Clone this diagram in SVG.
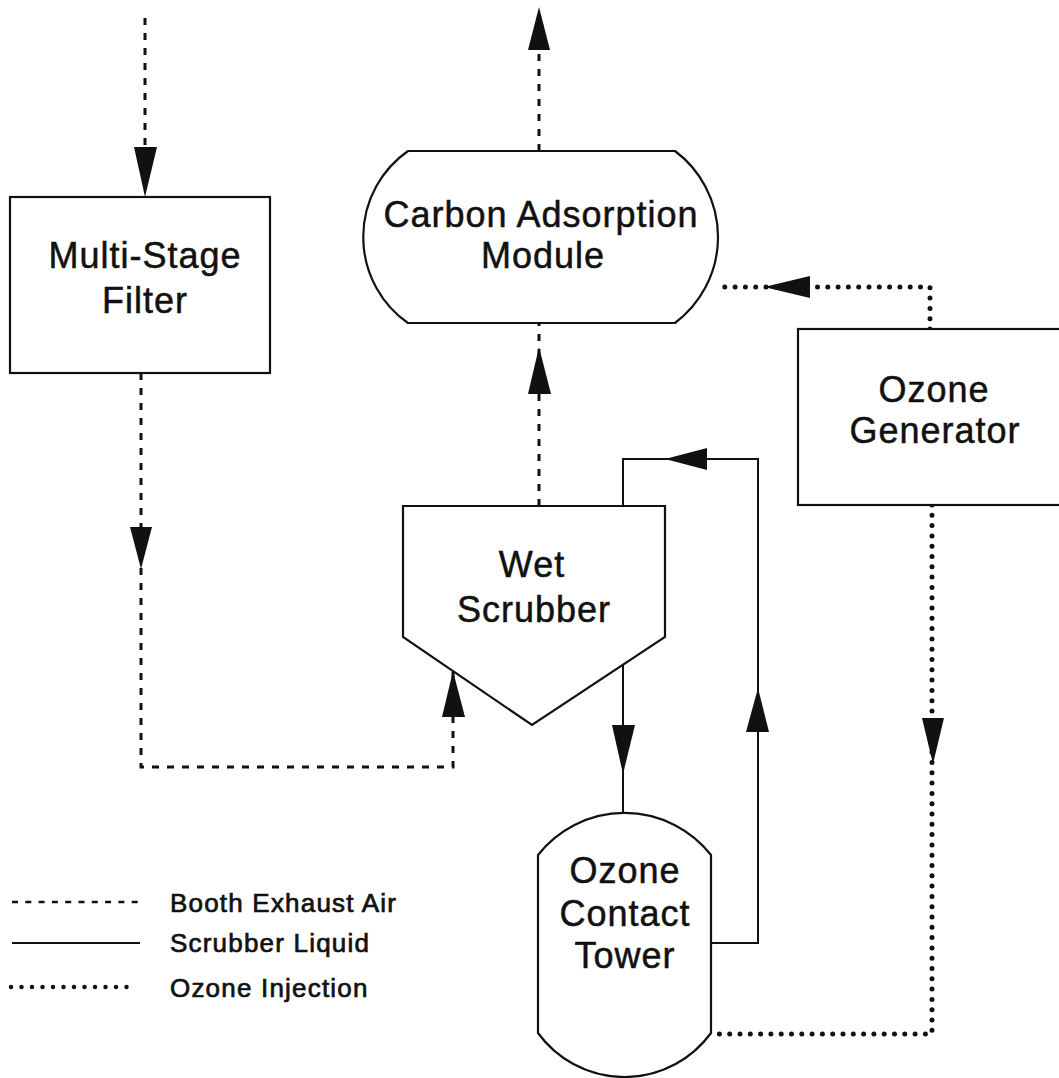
<svg xmlns="http://www.w3.org/2000/svg" width="1059" height="1078" viewBox="0 0 1059 1078">
<style>
.node{fill:#fff;stroke:#111;stroke-width:2.2}
.lbl{font-family:"Liberation Sans",Arial,sans-serif;font-size:36px;letter-spacing:1px;fill:#111;stroke:#111;stroke-width:0.5;text-anchor:middle}
.leg{font-family:"Liberation Sans",Arial,sans-serif;font-size:26px;letter-spacing:1.2px;fill:#111;stroke:#111;stroke-width:0.7}
.air{fill:none;stroke:#111;stroke-width:3;stroke-dasharray:7 8}
.liq{fill:none;stroke:#111;stroke-width:2}
.oz{fill:none;stroke:#111;stroke-width:5;stroke-dasharray:0 10.3;stroke-linecap:round}
.ah{fill:#111;stroke:none}
</style>
<rect width="1059" height="1078" fill="#fff"/>
<g id="connectors">
  <line class="air" x1="145" y1="18" x2="145" y2="150"/>
  <polygon class="ah" points="134,147 157,147 145,197"/>
  <polyline class="air" points="141,373 141,767 453,767 453,672"/>
  <polygon class="ah" points="130,527 152,527 141,569"/>
  <polygon class="ah" points="442,717 465,717 453,671"/>
  <line class="air" x1="539" y1="506" x2="539" y2="323"/>
  <polygon class="ah" points="528,394 551,394 539,347"/>
  <line class="air" x1="539" y1="151" x2="539" y2="48"/>
  <polygon class="ah" points="528,50 550,50 539,7"/>
  <line class="liq" x1="623" y1="665" x2="623" y2="814"/>
  <polygon class="ah" points="612,725 635,725 623,774"/>
  <polyline class="liq" points="711,943 758,943 758,459 623,459 623,506"/>
  <polygon class="ah" points="746,732 769,732 758,688"/>
  <polygon class="ah" points="707,448 707,470 665,459"/>
  <polyline class="oz" points="930,329 930,287 716,287"/>
  <polygon class="ah" points="810,276 810,298 764,287"/>
  <polyline class="oz" points="932,505 932,1034 712,1034"/>
  <polygon class="ah" points="922,718 944,718 933,764"/>
</g>
<g id="filter">
  <rect class="node" x="10" y="197" width="260" height="176"/>
  <text class="lbl" x="145" y="268">Multi-Stage</text>
  <text class="lbl" x="145" y="313">Filter</text>
</g>
<g id="carbon">
  <path class="node" d="M408,151 L675,151 A107.5,107.5 0 0 1 675,323 L408,323 A105,105 0 0 1 408,151 Z"/>
  <text class="lbl" x="541" y="227">Carbon Adsorption</text>
  <text class="lbl" x="543" y="268">Module</text>
</g>
<g id="scrubber">
  <polygon class="node" points="403,506 665,506 665,637 532,725 403,637"/>
  <text class="lbl" x="532" y="577">Wet</text>
  <text class="lbl" x="534" y="622">Scrubber</text>
</g>
<g id="generator">
  <rect class="node" x="798" y="329" width="280" height="176"/>
  <text class="lbl" x="934" y="402">Ozone</text>
  <text class="lbl" x="935" y="443">Generator</text>
</g>
<g id="tower">
  <path class="node" d="M538,855 A110,110 0 0 1 711,855 L711,1033 A107,107 0 0 1 538,1033 Z"/>
  <text class="lbl" x="625" y="883">Ozone</text>
  <text class="lbl" x="625" y="926">Contact</text>
  <text class="lbl" x="625" y="968">Tower</text>
</g>
<g id="legend">
  <line class="air" x1="12" y1="902" x2="140" y2="902" style="stroke-dasharray:6 7.3;stroke-width:2.5"/>
  <text class="leg" x="170" y="912">Booth Exhaust Air</text>
  <line class="liq" x1="12" y1="943" x2="140" y2="943"/>
  <text class="leg" x="170" y="952">Scrubber Liquid</text>
  <line class="oz" x1="11" y1="987" x2="137" y2="987" style="stroke-width:4.5;stroke-dasharray:0 10.5"/>
  <text class="leg" x="170" y="997">Ozone Injection</text>
</g>
</svg>
